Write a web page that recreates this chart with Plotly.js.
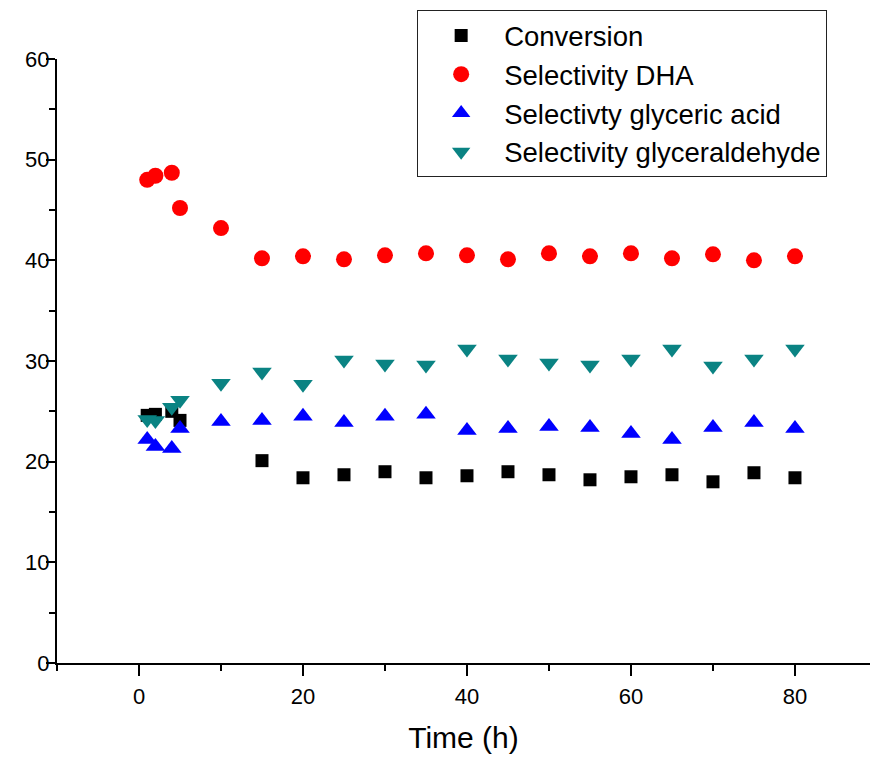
<!DOCTYPE html>
<html>
<head>
<meta charset="utf-8">
<script src="https://cdn.plot.ly/plotly-3.0.1.min.js"></script>
<style>html,body{margin:0;padding:0;background:#fff;}#chart{width:870px;height:758px;}</style>
</head>
<body>
<div id="chart"></div>
<script>
// Data
var seriesNames = ["Conversion", "Selectivity DHA", "Selectivty glyceric acid", "Selectivity glyceraldehyde"];

var timeConversion = [1, 2, 4, 5, 15, 20, 25, 30, 35, 40, 45, 50, 55, 60, 65, 70, 75, 80];
var conversion = [24.6, 24.7, 25.0, 24.1, 20.1, 18.4, 18.7, 19.0, 18.4, 18.6, 19.0, 18.7, 18.2, 18.5, 18.7, 18.0, 18.9, 18.4];

var timeSel = [1, 2, 4, 5, 10, 15, 20, 25, 30, 35, 40, 45, 50, 55, 60, 65, 70, 75, 80];
var selDHA = [48.0, 48.4, 48.7, 45.2, 43.2, 40.2, 40.4, 40.1, 40.5, 40.7, 40.5, 40.1, 40.7, 40.4, 40.7, 40.2, 40.6, 40.0, 40.4];
var selGlycericAcid = [22.2, 21.5, 21.3, 23.3, 24.0, 24.1, 24.5, 23.9, 24.5, 24.7, 23.1, 23.3, 23.5, 23.4, 22.8, 22.2, 23.4, 23.9, 23.3];
var selGlyceraldehyde = [24.2, 24.1, 25.4, 26.1, 27.8, 28.9, 27.7, 30.1, 29.7, 29.6, 31.2, 30.2, 29.8, 29.6, 30.2, 31.2, 29.5, 30.2, 31.2];

var xTickVals = [0, 20, 40, 60, 80];
var yTickVals = [0, 10, 20, 30, 40, 50, 60];
var xTitle = "Time (h)";

var FONT = "Liberation Sans, Arial, sans-serif";

var traces = [
  {x: timeConversion, y: conversion, name: seriesNames[0], type: "scatter", mode: "markers",
   marker: {symbol: "square", size: 13, color: "#000000"}},
  {x: timeSel, y: selDHA, name: seriesNames[1], type: "scatter", mode: "markers",
   marker: {symbol: "circle", size: 16, color: "#ff0000"}},
  {x: timeSel, y: selGlycericAcid, name: seriesNames[2], type: "scatter", mode: "markers",
   marker: {symbol: "triangle-up", size: 17, color: "#0000ff"}},
  {x: timeSel, y: selGlyceraldehyde, name: seriesNames[3], type: "scatter", mode: "markers",
   marker: {symbol: "triangle-down", size: 17, color: "#0a8383"}}
];

var layout = {
  width: 870, height: 758,
  margin: {l: 57, r: 0, t: 59, b: 95, pad: 0},
  paper_bgcolor: "#ffffff", plot_bgcolor: "#ffffff",
  font: {family: FONT, color: "#000000"},
  showlegend: true,
  legend: {
    x: 0.443, y: 1.081, xanchor: "left", yanchor: "top",
    bgcolor: "#ffffff", bordercolor: "#222222", borderwidth: 1,
    font: {family: FONT, size: 27.5, color: "#000000"},
    itemwidth: 76, tracegroupgap: 0
  },
  xaxis: {
    range: [-10, 89.15], showgrid: false, zeroline: false,
    showline: true, linecolor: "#000000", linewidth: 2,
    tickmode: "array", tickvals: xTickVals, ticktext: xTickVals.map(String),
    ticks: "outside", ticklen: 11, tickwidth: 2, tickcolor: "#000000",
    ticklabelstandoff: 2,
    minor: {tickmode: "linear", tick0: -10, dtick: 20, ticks: "outside", ticklen: 6, tickwidth: 2, tickcolor: "#000000", showgrid: false},
    tickfont: {family: FONT, size: 22, color: "#000000"},
    title: {text: xTitle, font: {family: FONT, size: 30, color: "#000000"}, standoff: 19},
    automargin: false
  },
  yaxis: {
    range: [0, 60], showgrid: false, zeroline: false,
    showline: true, linecolor: "#000000", linewidth: 2,
    tickmode: "array", tickvals: yTickVals, ticktext: yTickVals.map(String),
    ticks: "outside", ticklen: 9, tickwidth: 2, tickcolor: "#000000",
    ticklabelstandoff: -8,
    minor: {tickmode: "linear", tick0: 5, dtick: 10, ticks: "outside", ticklen: 6, tickwidth: 2, tickcolor: "#000000", showgrid: false},
    tickfont: {family: FONT, size: 22, color: "#000000"},
    automargin: false
  }
};

Plotly.newPlot("chart", traces, layout, {displayModeBar: false, staticPlot: true});
</script>
</body>
</html>
